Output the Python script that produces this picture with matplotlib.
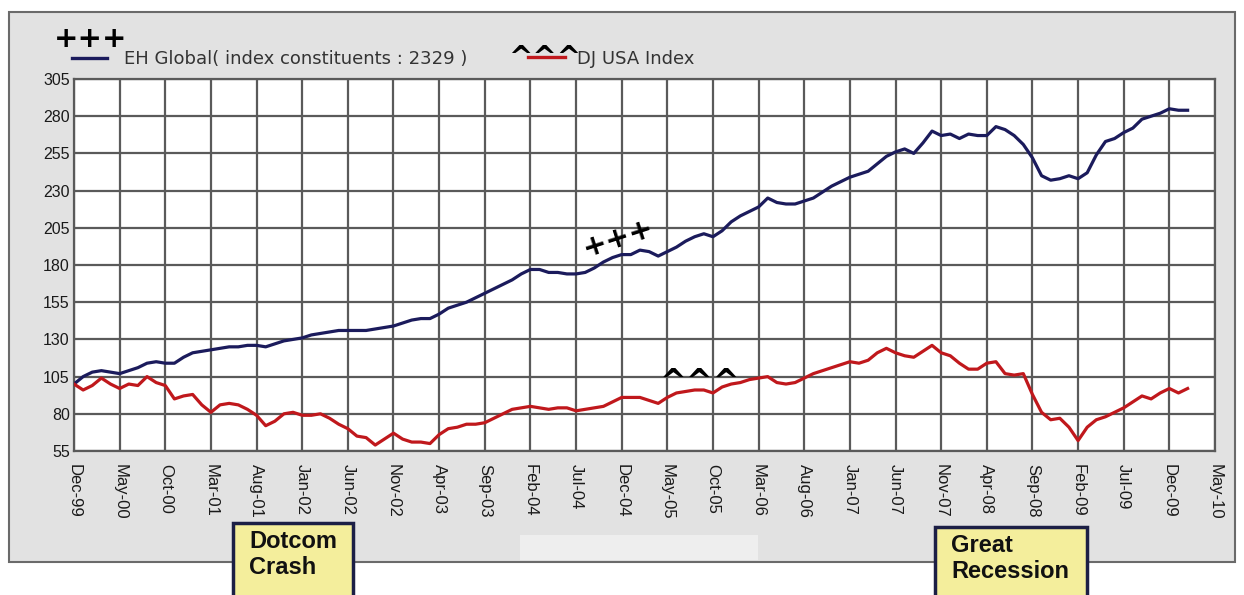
import matplotlib
matplotlib.use("Agg")
import matplotlib.pyplot as plt
import numpy as np
from matplotlib.lines import Line2D
from matplotlib.patches import Rectangle

# monthly index values, Dec-99 .. Feb-10
EH_GLOBAL = [
    100, 105, 108, 109, 108, 107, 109, 111, 114, 115,
    114, 114, 118, 121, 122, 123, 124, 125, 125, 126,
    126, 125, 127, 129, 130, 131, 133, 134, 135, 136,
    136, 136, 136, 137, 138, 139, 141, 143, 144, 144,
    147, 151, 153, 155, 158, 161, 164, 167, 170, 174,
    177, 177, 175, 175, 174, 174, 175, 178, 182, 185,
    187, 187, 190, 189, 186, 189, 192, 196, 199, 201,
    199, 203, 209, 213, 216, 219, 225, 222, 221, 221,
    223, 225, 229, 233, 236, 239, 241, 243, 248, 253,
    256, 258, 255, 262, 270, 267, 268, 265, 268, 267,
    267, 273, 271, 267, 261, 252, 240, 237, 238, 240,
    238, 242, 254, 263, 265, 269, 272, 278, 280, 282,
    285, 284, 284,
]
DJ_USA = [
    100, 96, 99, 104, 100, 97, 100, 99, 105, 101,
    99, 90, 92, 93, 86, 81, 86, 87, 86, 83,
    79, 72, 75, 80, 81, 79, 79, 80, 77, 73,
    70, 65, 64, 59, 63, 67, 63, 61, 61, 60,
    66, 70, 71, 73, 73, 74, 77, 80, 83, 84,
    85, 84, 83, 84, 84, 82, 83, 84, 85, 88,
    91, 91, 91, 89, 87, 91, 94, 95, 96, 96,
    94, 98, 100, 101, 103, 104, 105, 101, 100, 101,
    104, 107, 109, 111, 113, 115, 114, 116, 121, 124,
    121, 119, 118, 122, 126, 121, 119, 114, 110, 110,
    114, 115, 107, 106, 107, 93, 81, 76, 77, 71,
    62, 71, 76, 78, 81, 84, 88, 92, 90, 94,
    97, 94, 97,
]
TICK_LABELS = [
    "Dec-99", "May-00", "Oct-00", "Mar-01", "Aug-01", "Jan-02", "Jun-02",
    "Nov-02", "Apr-03", "Sep-03", "Feb-04", "Jul-04", "Dec-04", "May-05",
    "Oct-05", "Mar-06", "Aug-06", "Jan-07", "Jun-07", "Nov-07", "Apr-08",
    "Sep-08", "Feb-09", "Jul-09", "Dec-09", "May-10",
]
Y_TICKS = [55, 80, 105, 130, 155, 180, 205, 230, 255, 280, 305]

W, H = 1244, 595
NAVY = "#1b1b5c"
RED = "#c0181c"
GRID = "#5a5a5a"

plt.rcParams["font.family"] = ["DejaVu Sans"]


def px(x, y):
    """Pixel position (from top-left) to figure fraction."""
    return x / W, 1 - y / H


fig = plt.figure(figsize=(W / 100, H / 100), dpi=100, facecolor="white")

# grey panel behind the chart
x0, y0 = px(9, 562)
fig.patches.append(Rectangle((x0, y0), 1226 / W, 550 / H, transform=fig.transFigure,
                             facecolor="#e2e2e2", edgecolor="#6a6a6a", linewidth=1.5,
                             zorder=-2))
x0, y0 = px(520, 560)
fig.patches.append(Rectangle((x0, y0), 238 / W, 25 / H, transform=fig.transFigure,
                             facecolor="#eeeeee", edgecolor="none", zorder=-1))

left, top = px(74, 79)
right, bottom = px(1215, 451)
ax = fig.add_axes([left, bottom, right - left, top - bottom])
ax.set_zorder(2)
ax.set_facecolor("white")

months = np.arange(len(EH_GLOBAL))
ax.plot(months, EH_GLOBAL, color=NAVY, linewidth=2.3, zorder=3)
ax.plot(months, DJ_USA, color=RED, linewidth=2.3, zorder=3)

ax.set_xlim(0, 5 * (len(TICK_LABELS) - 1))
ax.set_ylim(Y_TICKS[0], Y_TICKS[-1])
ax.set_xticks(np.arange(len(TICK_LABELS)) * 5)
ax.set_xticklabels(TICK_LABELS, rotation=270, fontsize=12, family="Liberation Sans",
                   color="#1a1a1a")
ax.set_yticks(Y_TICKS)
ax.set_yticklabels([str(v) for v in Y_TICKS], fontsize=11.5, family="Liberation Sans",
                   color="#1a1a1a")
ax.tick_params(axis="x", length=0, pad=9)
ax.tick_params(axis="y", length=0, pad=3)
ax.grid(True, color=GRID, linewidth=1.6)
ax.set_axisbelow(True)
for s in ax.spines.values():
    s.set_color(GRID)
    s.set_linewidth(1.6)

# legend above the plot
fig.text(*px(54, 47), "+++", fontsize=21, fontweight="bold", color="black",
         va="baseline")
fig.add_artist(Line2D([72 / W, 107 / W], [1 - 58 / H] * 2, color=NAVY, linewidth=2.4))
fig.text(*px(124, 59), "EH Global( index constituents : 2329 )", fontsize=13,
         color="#333333", va="center")
fig.text(*px(508, 66), "^^^", fontsize=21, fontweight="bold", color="black",
         va="baseline")
fig.add_artist(Line2D([528 / W, 565 / W], [1 - 57 / H] * 2, color=RED, linewidth=2.4))
fig.text(*px(577, 59), "DJ USA Index", fontsize=13, color="#333333", va="center")

# markers drawn on the plot
fig.text(*px(618, 238), "+++", fontsize=21, fontweight="bold", color="black",
         ha="center", va="center", rotation=18, zorder=4)
fig.text(*px(700, 392), "^^^", fontsize=23, fontweight="bold", color="black",
         ha="center", va="baseline", zorder=4)

# callout boxes
for (bx, by, bw), label in [((233, 523, 120), "Dotcom\nCrash"),
                            ((935, 527, 152), "Great\nRecession")]:
    rx, ry = px(bx, by + 80)
    fig.patches.append(Rectangle((rx, ry), bw / W, 80 / H, transform=fig.transFigure,
                                 facecolor="#f4ee9c", edgecolor="#1c1f45", linewidth=2.5,
                                 zorder=5))
    fig.text(*px(bx + 16, by + 7), label, fontsize=17, fontweight="bold",
             family="Liberation Sans", color="#111111", va="top", linespacing=1.15,
             zorder=6)

fig.savefig("out.png", dpi=100, facecolor="white")
plt.close(fig)
